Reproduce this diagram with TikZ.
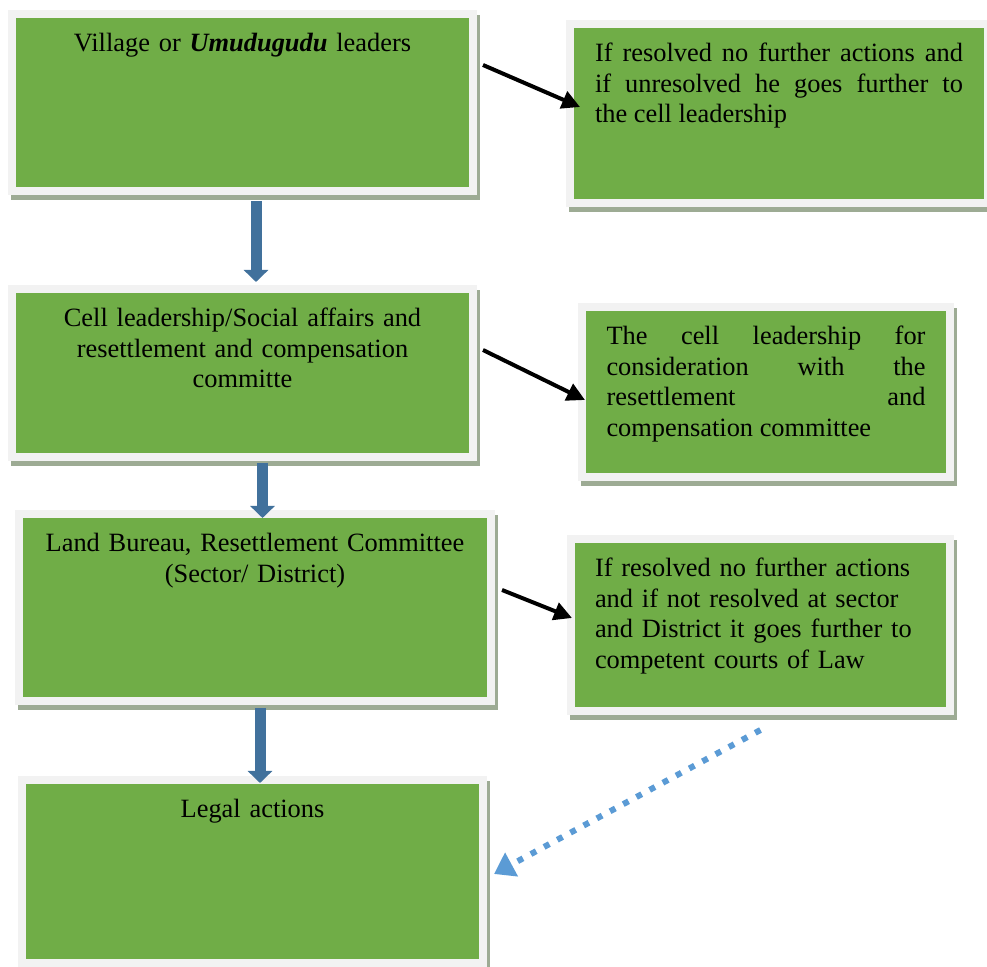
\documentclass[tikz,border=0pt]{standalone}
\usepackage{fontspec}
\setmainfont{Liberation Serif}
\usetikzlibrary{arrows.meta}

\definecolor{boxgreen}{HTML}{70AD47}
\definecolor{rimgray}{HTML}{F2F2F2}
\definecolor{shadegreen}{RGB}{157,171,148}
\definecolor{flowblue}{HTML}{41719C}
\definecolor{dotblue}{HTML}{5B9BD5}

\newcommand{\boxfont}{\fontsize{13.2}{15.2}\selectfont\tolerance=9999\hbadness=10000}

\tikzset{
	panel/.style={rectangle, anchor=north west, outer sep=0pt, fill=boxgreen, draw=rimgray, line width=4pt,
		preaction={draw=shadegreen, fill=shadegreen, line width=4pt, transform canvas={shift={(1.5pt,-2.5pt)}}},
		inner xsep=0pt, inner ysep=8pt, text height=11pt, font=\boxfont, align=center},
	flow/.style={flowblue, line width=5.5pt, -{Triangle[length=6pt,width=12pt]}},
	pointer/.style={black, line width=2pt, -{Triangle[length=9pt,width=9pt]}},
	goto/.style={dotblue, line width=3pt, dash pattern=on 3pt off 4.5pt, -{Triangle[length=10pt,width=13pt]}}
}

\begin{document}
\begin{tikzpicture}[x=0.5pt, y=-0.5pt]
		
		\useasboundingbox (0,0) rectangle (987,967);
		
		% left column
		\node[panel, minimum width=230.5pt, text width=225pt, text depth=61.5pt] (village) at (12,14)
			{Village or \textbf{\textit{Umudugudu}} leaders};
		\node[panel, minimum width=230.5pt, text width=225pt, text depth=57pt] (cell) at (12,289)
			{Cell leadership/Social affairs and\\ resettlement and compensation\\ committe};
		\node[panel, minimum width=236pt, text width=230pt, text depth=66.5pt] (bureau) at (19,514)
			{Land Bureau, Resettlement Committee\\ (Sector/ District)};
		\node[panel, minimum width=230.5pt, text width=225pt, text depth=64.5pt] (legal) at (22,780)
			{Legal actions};
		
		% right column
		\node[panel, align=justify, minimum width=209pt, text width=184pt, text depth=62.5pt] (resolve1) at (570,24)
			{If resolved no further actions and\linebreak if unresolved he goes further to\linebreak the cell leadership};
		\node[panel, align=justify, minimum width=184pt, text width=159.5pt, text depth=58pt] (consider) at (582,307)
			{The cell leadership for\linebreak consideration with the\linebreak resettlement and\linebreak compensation committee};
		\node[panel, align=left, minimum width=189.5pt, text width=165.5pt, text depth=59pt] (resolve2) at (571,539)
			{If resolved no further actions\\ and if not resolved at sector\\ and District it goes further to\\ competent courts of Law};
		
		% down the levels
		\draw[flow] ([xshift=6.75pt,yshift=-5pt]village.south) -- ([xshift=6.75pt,yshift=3.5pt]cell.north);
		\draw[flow] ([xshift=10pt,yshift=-3pt]cell.south) -- ([xshift=3.75pt,yshift=-2pt]bureau.north);
		\draw[flow] ([xshift=2.5pt,yshift=-3.5pt]bureau.south) -- ([xshift=3.75pt,yshift=-1.5pt]legal.north);
		
		% outcomes
		\draw[pointer] ([xshift=5pt,yshift=-25.5pt]village.north east) -- ([xshift=5pt,yshift=3.25pt]resolve1.west);
		\draw[pointer] ([xshift=5pt,yshift=11.5pt]cell.east) -- ([xshift=1.5pt,yshift=-4pt]consider.west);
		\draw[pointer] ([xshift=5.5pt,yshift=8.75pt]bureau.east) -- ([xshift=0.5pt,yshift=3.5pt]resolve2.west);
		\draw[goto] ([yshift=-9.5pt]resolve2.south) -- ([xshift=5.5pt,yshift=-1.25pt]legal.east);
		
	\end{tikzpicture}
\end{document}
